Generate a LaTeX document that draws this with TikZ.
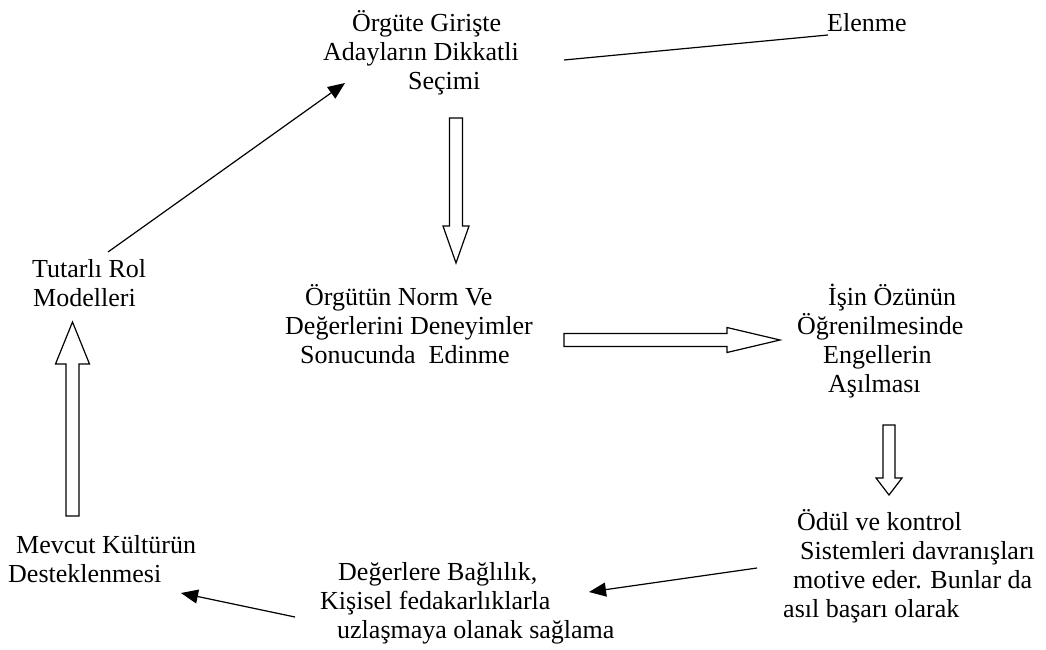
\documentclass[tikz,border=0pt]{standalone}
\usepackage{fontspec}
\setmainfont{Liberation Serif}
\usetikzlibrary{arrows.meta}

\tikzset{
  txt/.style={anchor=north west, inner sep=0pt, align=left,
    font=\fontsize{26}{29}\selectfont},
  thinarrow/.style={line width=1.2pt, -{Triangle[length=17pt,width=14pt]}},
  blockline/.style={line width=1.2pt, line join=miter},
}
% hollow block arrow: start, angle, length, shaft half width, head half width, head length
\newcommand{\blockarrow}[6]{%
  \begin{scope}[shift={#1}, rotate=#2]
    \draw[blockline] (0,-#4) -- ({#3-#6},-#4) -- ({#3-#6},-#5) -- (#3,0)
      -- ({#3-#6},#5) -- ({#3-#6},#4) -- (0,#4) -- cycle;
  \end{scope}}
\newcommand{\fl}{\rule{0pt}{24pt}}

\begin{document}
\begin{tikzpicture}[x=1pt,y=-1pt]
   \useasboundingbox (0,0) rectangle (1046,650);

   % texts
   \node[txt] (secim) at (323,7) {\hspace*{29pt}\fl Örgüte Girişte\\
     Adayların Dikkatli\\\hspace*{85pt}Seçimi};
   \node[txt] (elenme) at (827,7) {\fl Elenme};
   \node[txt] (tutarli) at (32,253) {\fl Tutarlı Rol\\\hspace*{1pt}Modelleri};
   \node[txt] (norm) at (285,281) {\hspace*{20pt}\fl Örgütün Norm Ve\\
     Değerlerini Deneyimler\\\hspace*{15pt}Sonucunda\ \ Edinme};
   \node[txt] (engel) at (797,281) {\hspace*{31pt}\fl İşin Özünün\\
     Öğrenilmesinde\\\hspace*{26pt}Engellerin\\\hspace*{31pt}Aşılması};
   \node[txt] (odul) at (783,506) {\hspace*{14pt}\fl Ödül ve kontrol\\
     \hspace*{17pt}Sistemleri davranışları\\\hspace*{10pt}motive eder. Bunlar da\\
     asıl başarı olarak};
   \node[txt] (baglilik) at (320,556) {\hspace*{18pt}\fl Değerlere Bağlılık,\\
     Kişisel fedakarlıklarla\\\hspace*{17pt}uzlaşmaya olanak sağlama};
   \node[txt] (mevcut) at (8,529) {\hspace*{8pt}\fl Mevcut Kültürün\\Desteklenmesi};

   % line ends
   \coordinate (tutarli-out) at (108,252);
   \coordinate (secim-in) at (345,83);
   \coordinate (secim-out) at (564,60);
   \coordinate (elenme-in) at (828,35);
   \coordinate (odul-out) at (757,568);
   \coordinate (baglilik-in) at (589,592);
   \coordinate (baglilik-out) at (295,617);
   \coordinate (mevcut-in) at (181,593);

   \draw[thinarrow] (tutarli-out) -- (secim-in);
   \draw[line width=1.2pt] (secim-out) -- (elenme-in);
   \draw[thinarrow] (odul-out) -- (baglilik-in);
   \draw[thinarrow] (baglilik-out) -- (mevcut-in);

   % block arrows
   \blockarrow{(456,118)}{-90}{145}{6.5}{13}{37}
   \blockarrow{(564,340)}{0}{216}{6.5}{12.5}{53}
   \blockarrow{(889,425)}{-90}{70}{6}{13}{17}
   \blockarrow{(72.5,516)}{90}{194}{6.5}{17}{42}
\end{tikzpicture}
\end{document}
